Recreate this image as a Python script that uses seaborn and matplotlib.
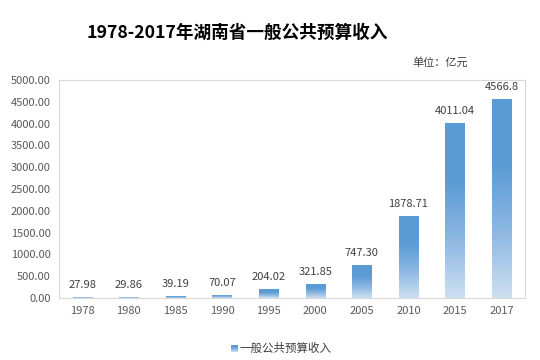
import numpy as np
import pandas as pd
import matplotlib
matplotlib.use("Agg")
import matplotlib.pyplot as plt
import seaborn as sns
from matplotlib.colors import LinearSegmentedColormap
from matplotlib.patches import Rectangle

years = ["1978", "1980", "1985", "1990", "1995", "2000", "2005", "2010", "2015", "2017"]
revenue = [27.98, 29.86, 39.19, 70.07, 204.02, 321.85, 747.30, 1878.71, 4011.04, 4566.8]
value_labels = ["27.98", "29.86", "39.19", "70.07", "204.02", "321.85", "747.30",
                "1878.71", "4011.04", "4566.8"]
series_name = "一般公共预算收入"

sns.set_theme(style="white")
plt.rcParams["font.family"] = ["Noto Sans CJK SC", "DejaVu Sans"]

df = pd.DataFrame({"year": years, "value": revenue})

fig = plt.figure(figsize=(5.4, 3.6), dpi=100)
ax = fig.add_axes([0.109, 0.172, 0.863, 0.606])

sns.barplot(data=df, x="year", y="value", color="#5B9BD5", width=0.41, ax=ax)

# vertical gradient fill for each bar
cmap = LinearSegmentedColormap.from_list("grad", ["#CDE0F2", "#8DB7E2", "#5B9BD5", "#5B9BD5"])
grad = np.linspace(0, 1, 256).reshape(-1, 1)
for bar in ax.patches:
    x0, y0 = bar.get_x(), bar.get_y()
    w, h = bar.get_width(), bar.get_height()
    bar.set_facecolor("none")
    bar.set_edgecolor("none")
    im = ax.imshow(grad, cmap=cmap, origin="lower", aspect="auto",
                   extent=[x0, x0 + w, y0, y0 + h], zorder=2)
    clip = Rectangle((x0, y0), w, h, transform=ax.transData)
    im.set_clip_path(clip)

for i, (v, lab) in enumerate(zip(revenue, value_labels)):
    ax.text(i, v + 160, lab, ha="center", va="bottom", fontsize=8, color="#404040")

ax.set_xlim(-0.5, len(years) - 0.5)
ax.set_ylim(0, 5000)
ax.set_yticks(np.arange(0, 5001, 500))
ax.set_yticklabels([f"{t:.2f}" for t in np.arange(0, 5001, 500)])
ax.tick_params(axis="both", labelsize=8, colors="#595959", length=0, pad=6)
ax.set_xlabel("")
ax.set_ylabel("")
for s in ax.spines.values():
    s.set_color("#D9D9D9")
    s.set_linewidth(0.8)

fig.text(0.44, 0.91, "1978-2017年湖南省一般公共预算收入", ha="center", va="center",
         fontsize=12.7, fontweight="bold", color="#000000")
fig.text(0.815, 0.826, "单位：亿元", ha="center", va="center", fontsize=8, color="#404040")

# legend with gradient square
lx, ly = 0.428, 0.033
sq = fig.add_axes([lx, ly - 0.012, 0.012, 0.022])
sq.imshow(grad, cmap=cmap, origin="lower", aspect="auto")
sq.axis("off")
fig.text(lx + 0.016, ly, series_name, ha="left", va="center", fontsize=8.3, color="#404040")

fig.savefig("out.png", dpi=100)
